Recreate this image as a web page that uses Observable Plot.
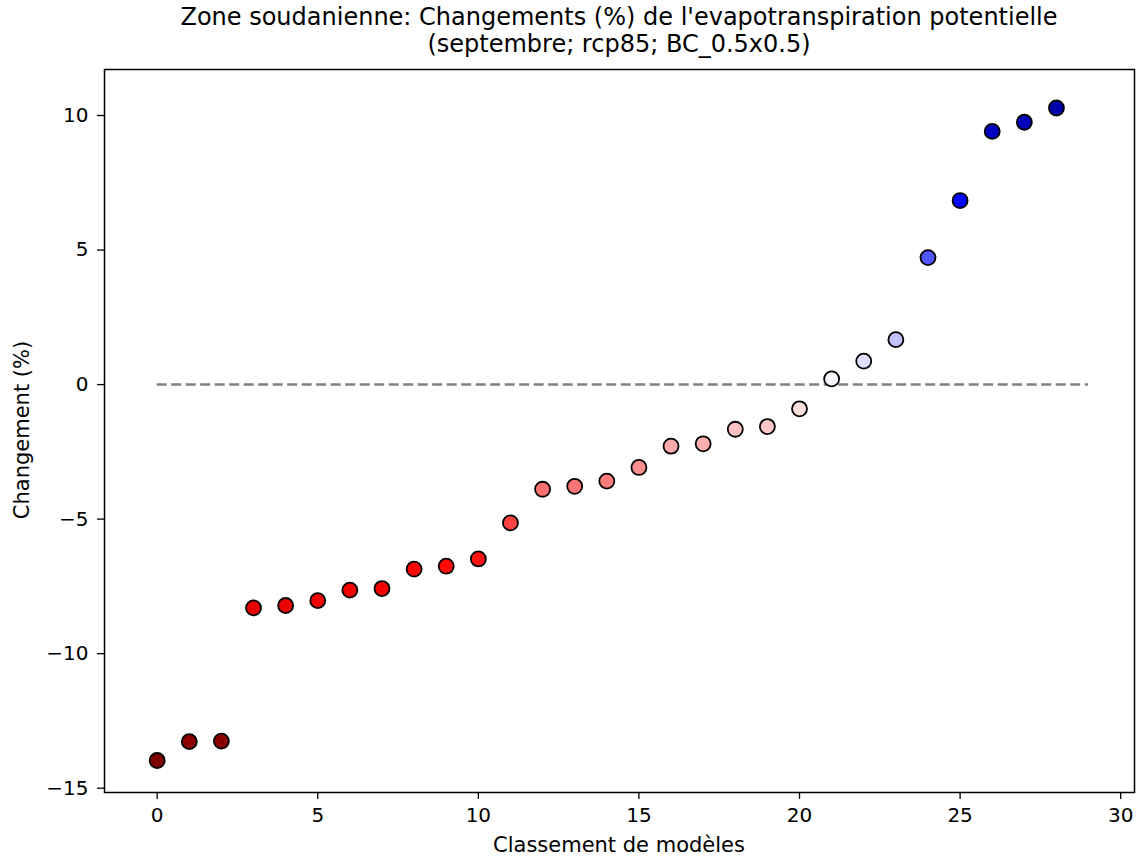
<!DOCTYPE html>
<html>
<head>
<meta charset="utf-8">
<script src="https://cdn.jsdelivr.net/npm/d3@7"></script>
<script src="https://cdn.jsdelivr.net/npm/@observablehq/plot@0.6"></script>
<style>
  html, body { margin: 0; padding: 0; background: #fff; }
  #wrap { position: relative; width: 1137px; height: 859px; font-family: "DejaVu Sans", sans-serif; color: #000; }
  #title { position: absolute; left: 104px; width: 1030px; top: 4px; text-align: center; font-size: 24px; line-height: 27px; }
  #xlabel { position: absolute; left: 104px; width: 1030px; top: 833px; text-align: center; font-size: 21px; line-height: 24px; }
  #ylabel { position: absolute; left: 22px; top: 430px; transform: translate(-50%, -50%) rotate(-90deg); white-space: nowrap; font-size: 21px; line-height: 24px; }
</style>
</head>
<body>
<div id="wrap">
  <div id="chart"></div>
  <div id="title"></div>
  <div id="xlabel"></div>
  <div id="ylabel"></div>
</div>
<script>
const titleLine1 = "Zone soudanienne: Changements (%) de l'evapotranspiration potentielle";
const titleLine2 = "(septembre; rcp85; BC_0.5x0.5)";
const xLabel = "Classement de modèles";
const yLabel = "Changement (%)";

const ranks = [0,1,2,3,4,5,6,7,8,9,10,11,12,13,14,15,16,17,18,19,20,21,22,23,24,25,26,27,28];
const changes = [-13.97,-13.27,-13.25,-8.30,-8.21,-8.03,-7.64,-7.58,-6.86,-6.75,-6.48,-5.14,-3.89,-3.78,-3.59,-3.08,-2.29,-2.20,-1.66,-1.56,-0.90,0.21,0.87,1.67,4.72,6.84,9.41,9.75,10.28];
const xTicks = [0,5,10,15,20,25,30];
const yTicks = [-15,-10,-5,0,5,10];

document.getElementById("title").innerHTML = titleLine1 + "<br>" + titleLine2;
document.getElementById("xlabel").textContent = xLabel;
document.getElementById("ylabel").textContent = yLabel;

const data = ranks.map((r, i) => ({rank: r, change: changes[i]}));
const M = d3.max(changes, v => Math.abs(v));

const plot = Plot.plot({
  width: 1137,
  height: 859,
  marginLeft: 104,
  marginRight: 3,
  marginTop: 69,
  marginBottom: 67,
  style: {fontFamily: "DejaVu Sans, sans-serif", fontSize: "20px", color: "#000", background: "#fff"},
  x: {domain: [-1.64, 30.43]},
  y: {domain: [-15.16, 11.71]},
  color: {type: "linear", domain: [-M, -M/2, 0, M/2, M], range: ["#800000", "#ff0000", "#ffffff", "#0000ff", "#00004d"]},
  marks: [
    Plot.axisX({ticks: xTicks, tickSize: 7, tickPadding: 8, fontSize: 20, label: null, tickFormat: d => String(d), strokeWidth: 1.3}),
    Plot.axisY({ticks: yTicks, tickSize: 7, tickPadding: 9, fontSize: 20, label: null, strokeWidth: 1.3}),
    Plot.ruleY([0], {x1: 0, x2: ranks.length, stroke: "#808080", strokeWidth: 2.5, strokeDasharray: "10,4.5"}),
    Plot.dot(data, {x: "rank", y: "change", r: 7.5, fill: d => d.change, stroke: "#000", strokeWidth: 1.8}),
    Plot.frame({stroke: "#000", strokeWidth: 1.5})
  ]
});
document.getElementById("chart").appendChild(plot);
</script>
</body>
</html>
